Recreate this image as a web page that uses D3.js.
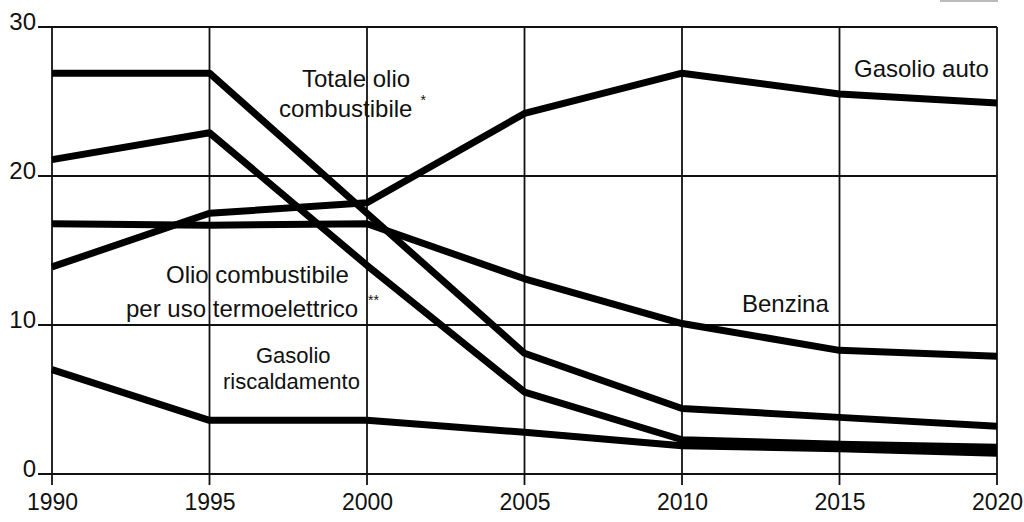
<!DOCTYPE html>
<html>
<head>
<meta charset="utf-8">
<script src="https://cdn.jsdelivr.net/npm/d3@7"></script>
<style>
  html, body { margin: 0; padding: 0; background: #fff; }
  svg { display: block; }
  text { font-family: "Liberation Sans", Arial, Helvetica, sans-serif; fill: #111; }
</style>
</head>
<body>
<svg id="chart" width="1024" height="522"></svg>
<script>
// ---- data ----
const years = [1990, 1995, 2000, 2005, 2010, 2015, 2020];
const yTicks = [0, 10, 20, 30];
const totaleOlio = [26.9, 26.9, 17.5, 8.1, 4.4, 3.8, 3.2];
const olioTermo = [21.1, 22.9, 14.0, 5.5, 2.3, 2.0, 1.8];
const gasolioAuto = [13.9, 17.5, 18.2, 24.2, 26.9, 25.5, 24.9];
const benzina = [16.8, 16.7, 16.8, 13.1, 10.1, 8.3, 7.9];
const gasolioRisc = [7.0, 3.6, 3.6, 2.8, 1.9, 1.7, 1.4];
const seriesList = [gasolioRisc, olioTermo, totaleOlio, benzina, gasolioAuto];

// ---- layout ----
const svg = d3.select("#chart");
const x = d3.scaleLinear().domain([1990, 2020]).range([52, 997]);
const y = d3.scaleLinear().domain([0, 30]).range([474, 27]);

// grid
const grid = svg.append("g").attr("stroke", "#111").attr("stroke-width", 1.8);
grid.selectAll("line.v").data(years).join("line")
  .attr("x1", d => x(d)).attr("x2", d => x(d))
  .attr("y1", y(30)).attr("y2", y(0) + 11);
grid.selectAll("line.h").data(yTicks).join("line")
  .attr("x1", x(1990) - 14).attr("x2", x(2020))
  .attr("y1", d => y(d)).attr("y2", d => y(d));

// axes labels via d3 axes (domain & ticks hidden, labels only)
const yAxis = d3.axisLeft(y).tickValues(yTicks).tickSize(0).tickPadding(0).tickFormat(d3.format("d"));
const gy = svg.append("g").attr("transform", "translate(36,0)").call(yAxis);
gy.select(".domain").remove();
gy.selectAll("text").attr("font-size", 24).attr("font-family", "Liberation Sans, Arial, sans-serif")
  .attr("dy", "0.12em").attr("fill", "#111");

const xAxis = d3.axisBottom(x).tickValues(years).tickSize(0).tickPadding(0).tickFormat(d3.format("d"));
const gx = svg.append("g").attr("transform", "translate(0,493)").call(xAxis);
gx.select(".domain").remove();
gx.selectAll("text").attr("font-size", 23).attr("font-family", "Liberation Sans, Arial, sans-serif")
  .attr("dy", "0.72em").attr("fill", "#111");

// lines
const line = d3.line().x((d, i) => x(years[i])).y(d => y(d));
svg.append("g").selectAll("path").data(seriesList).join("path")
  .attr("d", line)
  .attr("fill", "none")
  .attr("stroke", "#000")
  .attr("stroke-width", 7)
  .attr("stroke-linejoin", "round");

// labels
function label(lines) {
  lines.forEach(l => {
    const t = svg.append("text").attr("x", l.x).attr("y", l.y).attr("font-size", l.size || 24);
    t.append("tspan").text(l.text);
    if (l.sup) {
      t.append("tspan").attr("font-size", 14).attr("dx", l.supDx || 6).attr("dy", -12).text(l.sup);
    }
  });
}
label([
  { text: "Totale olio", x: 302, y: 87 },
  { text: "combustibile", x: 279, y: 117, sup: "*", supDx: 8 },
  { text: "Olio combustibile", x: 166, y: 283 },
  { text: "per uso termoelettrico", x: 126, y: 317, sup: "**", supDx: 10 },
  { text: "Gasolio", x: 256, y: 363, size: 22 },
  { text: "riscaldamento", x: 223, y: 389, size: 22 },
  { text: "Benzina", x: 742, y: 312 },
  { text: "Gasolio auto", x: 854, y: 77 }
]);

// small grey mark at top right
svg.append("rect").attr("x", 940).attr("y", 0).attr("width", 58).attr("height", 2).attr("fill", "#bbb");
</script>
</body>
</html>
